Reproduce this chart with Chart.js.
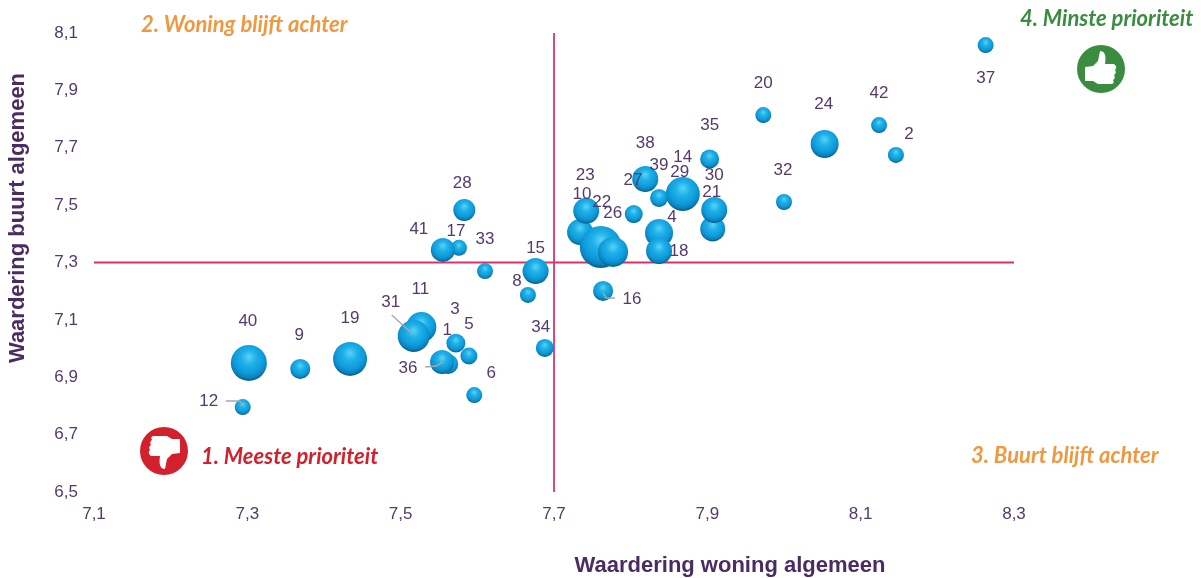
<!DOCTYPE html>
<html lang="nl">
<head>
<meta charset="utf-8">
<title>Waardering woning en buurt</title>
<script src="https://cdn.jsdelivr.net/npm/chart.js@4"></script>
<style>
  html, body { margin: 0; padding: 0; background: #fff; }
  canvas { display: block; }
</style>
</head>
<body>
<canvas id="chart" width="1201" height="578"></canvas>
<script>
// Data
const ids = [1, 2, 3, 4, 5, 6, 8, 9, 10, 11, 12, 14, 15, 16, 17, 18, 19, 20, 21, 22, 23, 24, 26, 27, 28, 29, 30, 31, 32, 33, 34, 35, 36, 37, 38, 39, 40, 41, 42];
const woning = [7.562, 8.146, 7.572, 7.837, 7.589, 7.596, 7.666, 7.369, 7.734, 7.527, 7.294, 7.868, 7.676, 7.764, 7.576, 7.837, 7.434, 7.973, 7.907, 7.761, 7.742, 8.053, 7.804, 7.777, 7.583, 7.868, 7.909, 7.517, 8.0, 7.61, 7.688, 7.903, 7.554, 8.263, 7.819, 7.837, 7.302, 7.555, 8.124];
const buurt = [6.946, 7.675, 7.019, 7.403, 6.974, 6.838, 7.187, 6.929, 7.406, 7.075, 6.796, 7.546, 7.27, 7.201, 7.351, 7.34, 6.964, 7.814, 7.417, 7.354, 7.48, 7.713, 7.469, 7.337, 7.483, 7.539, 7.483, 7.044, 7.511, 7.27, 7.002, 7.661, 6.953, 8.058, 7.591, 7.525, 6.95, 7.344, 7.779];
const aantal = [100, 64, 90, 196, 72, 64, 64, 100, 169, 225, 64, 144, 169, 100, 64, 169, 289, 64, 156, 441, 169, 196, 81, 225, 121, 289, 169, 256, 64, 64, 81, 90, 144, 64, 169, 81, 324, 144, 64];

const xTicks = [7.1, 7.3, 7.5, 7.7, 7.9, 8.1, 8.3];
const yTicks = [6.5, 6.7, 6.9, 7.1, 7.3, 7.5, 7.7, 7.9, 8.1];
const xCross = 7.7;
const yCross = 7.3;

const xTitle = 'Waardering woning algemeen';
const yTitle = 'Waardering buurt algemeen';

const quadrants = [
  { text: '1. Meeste prioriteit', x: 201, y: 457, color: '#d2202c' },
  { text: '2. Woning blijft achter', x: 141, y: 25, color: '#f0983f' },
  { text: '3. Buurt blijft achter', x: 971, y: 456, color: '#f0983f' },
  { text: '4. Minste prioriteit', x: 1020, y: 19, color: '#3a8c40' }
];

// label position relative to the bubble, px
const labelOffsets = {
  1: [-1, -34], 2: [13, -21], 3: [-1, -34], 4: [13, -16], 5: [0, -32], 6: [17, -22],
  8: [-11, -14], 9: [-1, -34], 10: [2, -38], 11: [-1, -38], 12: [-34, -6], 14: [0, -35],
  15: [0, -23], 16: [29, 8], 17: [-3, -17], 18: [20, 0], 19: [0, -41], 20: [0, -32],
  21: [-1, -37], 22: [1, -45], 23: [-1, -36], 24: [-1, -40], 26: [-21, -1], 27: [20, -72],
  28: [-2, -27], 29: [-3, -22], 30: [0, -35], 31: [-23, -34], 32: [-1, -32], 33: [0, -32],
  34: [-4, -21], 35: [0, -34], 36: [-34, 6], 37: [0, 33], 38: [0, -36], 39: [0, -33],
  40: [-1, -42], 41: [-24, -21], 42: [0, -32]
};

// grey leader lines, px from the bubble
const leaders = {
  12: [[-17, -6], [-3, -6], [0, -2]],
  16: [[0, 2], [3, 7], [12, 7]],
  31: [[-22, -21], [-1, -2]],
  36: [[-17, 5], [-6, 4], [1, 0]]
};

const textColor = '#533a6b';
const comma = v => Number(v).toFixed(1).replace('.', ',');

function sphere(context) {
  const raw = context.raw;
  if (!raw) return '#0f9bd6';
  const { x: xs, y: ys } = context.chart.scales;
  const px = xs.getPixelForValue(raw.x);
  const py = ys.getPixelForValue(raw.y);
  // scales have no size yet on the first pass
  if (!Number.isFinite(px) || !Number.isFinite(py)) return '#0f9bd6';
  // outer circle sits higher, so only the bottom edge reaches the dark rim
  const g = context.chart.ctx.createRadialGradient(px, py - raw.r * 0.35, 0, px, py - raw.r * 0.2, raw.r * 1.2);
  g.addColorStop(0, '#58d4f6');
  g.addColorStop(0.35, '#1fb0e8');
  g.addColorStop(0.7, '#0d9ada');
  g.addColorStop(0.88, '#0b80b8');
  g.addColorStop(0.97, '#0a5f88');
  g.addColorStop(1, '#0d80ac');
  return g;
}

function thumb(ctx, cx, cy, angle, color) {
  ctx.save();
  ctx.translate(cx, cy);
  ctx.fillStyle = color;
  ctx.beginPath();
  ctx.arc(0, 0, 24, 0, Math.PI * 2);
  ctx.fill();
  ctx.rotate(angle);
  ctx.fillStyle = '#fff';
  ctx.beginPath();
  ctx.moveTo(-16, -2);
  ctx.lineTo(-8, -3);
  ctx.lineTo(-3, -8);
  ctx.lineTo(-1, -18);
  ctx.quadraticCurveTo(6, -18, 4, -5);
  ctx.lineTo(13, -5);
  ctx.quadraticCurveTo(17, -2, 14, 1);
  ctx.quadraticCurveTo(16, 4, 13, 6);
  ctx.quadraticCurveTo(15, 9, 12, 11);
  ctx.quadraticCurveTo(14, 15, 10, 15);
  ctx.lineTo(-3, 15);
  ctx.lineTo(-8, 12);
  ctx.lineTo(-16, 12);
  ctx.closePath();
  ctx.fill();
  ctx.restore();
}

const extras = {
  id: 'extras',
  afterDatasetsDraw(chart) {
    const ctx = chart.ctx;
    const points = chart.getDatasetMeta(0).data;

    // leader lines
    ctx.save();
    ctx.strokeStyle = '#a8a8a8';
    ctx.lineWidth = 1.5;
    Object.keys(leaders).forEach(id => {
      const p = points[ids.indexOf(Number(id))];
      ctx.beginPath();
      leaders[id].forEach(([dx, dy], i) => {
        if (i === 0) ctx.moveTo(p.x + dx, p.y + dy);
        else ctx.lineTo(p.x + dx, p.y + dy);
      });
      ctx.stroke();
    });
    ctx.restore();

    // bubble labels
    ctx.save();
    ctx.font = '17px "Liberation Sans", Arial, sans-serif';
    ctx.fillStyle = textColor;
    ctx.textAlign = 'center';
    ctx.textBaseline = 'middle';
    ids.forEach((id, i) => {
      const [dx, dy] = labelOffsets[id];
      ctx.fillText(String(id), points[i].x + dx, points[i].y + dy);
    });
    ctx.restore();

    // quadrant names
    ctx.save();
    ctx.font = 'italic bold 22px Lato, "Open Sans", sans-serif';
    ctx.textAlign = 'left';
    ctx.textBaseline = 'middle';
    quadrants.forEach(q => {
      ctx.fillStyle = q.color;
      ctx.fillText(q.text, q.x, q.y);
    });
    ctx.restore();

    thumb(ctx, 1101, 69, 0, '#3a8c40');
    thumb(ctx, 164, 451, Math.PI, '#d2202c');

    // axis titles
    ctx.save();
    ctx.font = 'bold 22px "Liberation Sans", Arial, sans-serif';
    ctx.fillStyle = '#4b2c62';
    ctx.textAlign = 'center';
    ctx.textBaseline = 'middle';
    ctx.fillText(xTitle, 730, 566);
    ctx.translate(18, 218);
    ctx.rotate(-Math.PI / 2);
    ctx.fillText(yTitle, 0, 0);
    ctx.restore();
  }
};

new Chart(document.getElementById('chart'), {
  type: 'bubble',
  data: {
    datasets: [
      {
        data: ids.map((id, i) => ({ x: woning[i], y: buurt[i], r: Math.sqrt(aantal[i]) })),
        backgroundColor: sphere,
        borderWidth: 0,
        hoverBorderWidth: 0
      },
      {
        type: 'scatter',
        data: [{ x: xTicks[0], y: yCross }, { x: xTicks[xTicks.length - 1], y: yCross }],
        showLine: true,
        borderColor: '#d8326e',
        borderWidth: 1.8,
        pointRadius: 0
      },
      {
        type: 'scatter',
        data: [{ x: xCross, y: yTicks[0] }, { x: xCross, y: yTicks[yTicks.length - 1] }],
        showLine: true,
        borderColor: '#d8326e',
        borderWidth: 1.8,
        pointRadius: 0
      }
    ]
  },
  options: {
    responsive: false,
    animation: false,
    layout: { padding: { top: 33, right: 187, left: 0, bottom: 0 } },
    plugins: { legend: { display: false }, tooltip: { enabled: false } },
    scales: {
      x: {
        type: 'linear',
        min: xTicks[0],
        max: xTicks[xTicks.length - 1],
        afterBuildTicks: axis => { axis.ticks = xTicks.map(v => ({ value: v })); },
        afterFit: axis => { axis.height = 86; },
        grid: { display: false, drawTicks: false },
        border: { display: false },
        ticks: {
          color: textColor,
          padding: 12,
          maxRotation: 0,
          autoSkip: false,
          font: { family: '"Liberation Sans", Arial, sans-serif', size: 17 },
          callback: comma
        }
      },
      y: {
        type: 'linear',
        min: yTicks[0],
        max: yTicks[yTicks.length - 1],
        afterBuildTicks: axis => { axis.ticks = yTicks.map(v => ({ value: v })); },
        afterFit: axis => { axis.width = 94; },
        grid: { display: false, drawTicks: false },
        border: { display: false },
        ticks: {
          color: textColor,
          padding: 16,
          autoSkip: false,
          font: { family: '"Liberation Sans", Arial, sans-serif', size: 17 },
          callback: comma
        }
      }
    }
  },
  plugins: [extras]
});
</script>
</body>
</html>
